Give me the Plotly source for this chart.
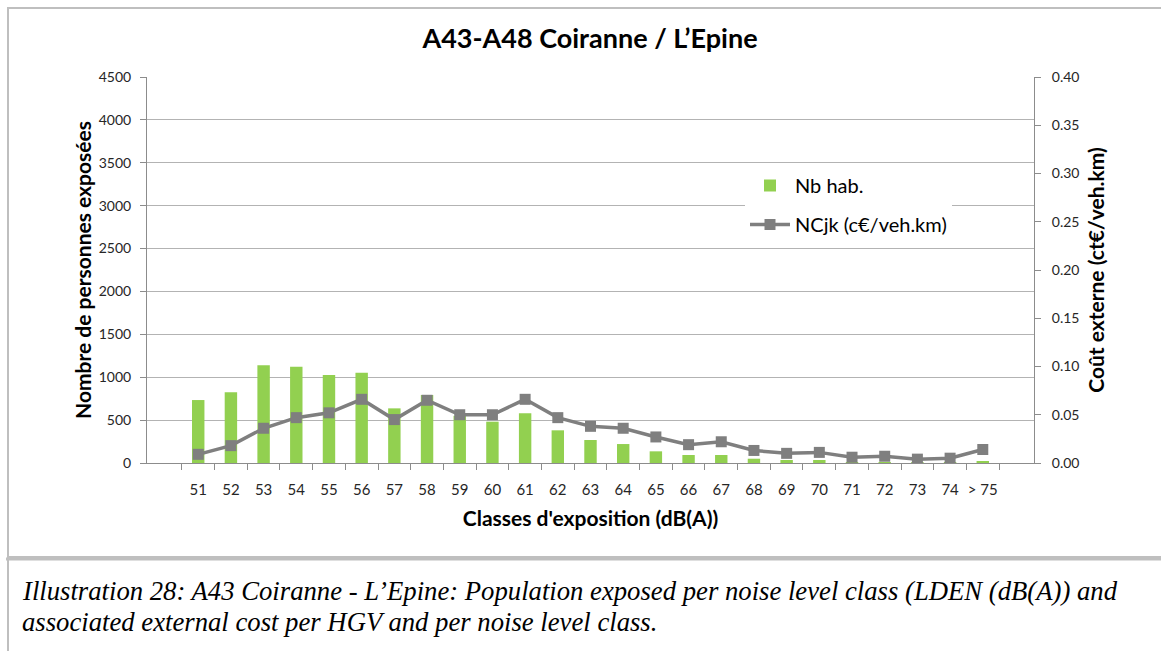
import plotly.graph_objects as go

categories = ["51", "52", "53", "54", "55", "56", "57", "58", "59", "60", "61", "62", "63",
              "64", "65", "66", "67", "68", "69", "70", "71", "72", "73", "74", "> 75"]
nb_hab = [734, 824, 1139, 1123, 1026, 1053, 637, 793, 550, 482, 580, 381, 268,
          221, 136, 93, 93, 50, 35, 35, 5, 10, 2, 5, 20]
ncjk = [0.009, 0.018, 0.036, 0.047, 0.052, 0.066, 0.045, 0.065, 0.050, 0.050, 0.066, 0.047, 0.038,
        0.036, 0.027, 0.019, 0.022, 0.013, 0.010, 0.011, 0.006, 0.007, 0.004, 0.005, 0.014]

W, H = 1161, 651
L, R, T, B = 147, 1034, 77, 463

def px(x):
    return (x - L) / (R - L)

def py(y):
    return (B - y) / (B - T)

FONT = "Lato, 'Open Sans', sans-serif"
GRID = "#b3b3b3"
AX = "#8c8c8c"

fig = go.Figure()
fig.add_trace(go.Bar(x=categories, y=nb_hab, name="Nb hab.", marker_color="#92D050",
                     marker_line_width=0, legendgroup="a"))
fig.add_trace(go.Scatter(x=categories, y=ncjk, name="NCjk (c€/veh.km)", yaxis="y2",
                         mode="lines+markers", line=dict(color="#7f7f7f", width=3.5),
                         marker=dict(symbol="square", size=11, color="#7f7f7f"),
                         legendgroup="b"))

fig.update_layout(
    width=W, height=H,
    margin=dict(l=L, r=W - R, t=T, b=H - B, autoexpand=False),
    paper_bgcolor="white", plot_bgcolor="white",
    bargap=0.62,
    font=dict(family=FONT, size=14, color="#262626"),
    title=dict(text="<b>A43-A48 Coiranne / L’Epine</b>", x=px(590), xref="paper", xanchor="center",
               y=1 - 39 / H, yanchor="middle", font=dict(size=27, color="#000000", family=FONT)),
    xaxis=dict(type="category", tickson="boundaries", ticks="outside", ticklen=6, tickcolor=AX,
               showline=True, linecolor=AX, linewidth=1, showgrid=False, tickangle=0,
               automargin=False, ticklabelstandoff=13,
               tickfont=dict(size=15, color="#262626"),
               title=dict(text="<b>Classes d'exposition (dB(A))</b>", font=dict(size=21, color="#000"),
                          standoff=14)),
    yaxis=dict(range=[0, 4500], dtick=500, showgrid=True, gridcolor=GRID, gridwidth=1,
               showline=True, linecolor=AX, ticks="outside", ticklen=6, tickcolor=AX,
               zeroline=False, tickfont=dict(size=14, color="#262626"), automargin=False,
               ticklabelstandoff=6,
               title=dict(text="<b>Nombre de personnes exposées</b>", font=dict(size=21, color="#000"),
                          standoff=1)),
    yaxis2=dict(range=[0, 0.40], dtick=0.05, tickformat=".2f", overlaying="y", side="right",
                showgrid=False, showline=True, linecolor=AX, ticks="outside", ticklen=6, tickcolor=AX,
                zeroline=False, tickfont=dict(size=14, color="#262626"), automargin=False,
                ticklabelstandoff=8,
                title=dict(text="<b>Coût externe (ct€/veh.km)</b>", font=dict(size=21, color="#000"),
                           standoff=10)),
    legend=dict(x=px(745), y=py(166), xanchor="left", yanchor="top", bgcolor="white",
                borderwidth=0, font=dict(size=20, color="#000"), tracegroupgap=10,
                traceorder="grouped", itemwidth=40),
    showlegend=True,
)

# chart frame
fig.add_shape(type="rect", xref="paper", yref="paper", x0=px(8), x1=px(1170), y0=py(557), y1=py(8),
              line=dict(color="#bfbfbf", width=2), fillcolor="rgba(0,0,0,0)", layer="below")
fig.add_shape(type="line", xref="paper", yref="paper", x0=px(6), x1=px(1170), y0=py(559), y1=py(559),
              line=dict(color="#bfbfbf", width=3))
fig.add_shape(type="line", xref="paper", yref="paper", x0=px(8), x1=px(8), y0=py(559), y1=py(660),
              line=dict(color="#bfbfbf", width=2))

cap_font = dict(family="'Liberation Serif', 'Times New Roman', serif", size=26.7, color="#000")
fig.add_annotation(text="<i>Illustration 28: A43 Coiranne - L’Epine: Population exposed per noise level class (LDEN (dB(A)) and</i>",
                   xref="paper", yref="paper", x=px(20), y=py(591), xanchor="left", yanchor="middle",
                   showarrow=False, font=cap_font)
fig.add_annotation(text="<i>associated external cost per HGV and per noise level class.</i>",
                   xref="paper", yref="paper", x=px(20), y=py(622), xanchor="left", yanchor="middle",
                   showarrow=False, font=cap_font)

fig.write_html("out.html", config={"displayModeBar": False},
               post_script="document.body.style.margin='0';document.body.style.padding='0';document.body.style.overflow='hidden';")
